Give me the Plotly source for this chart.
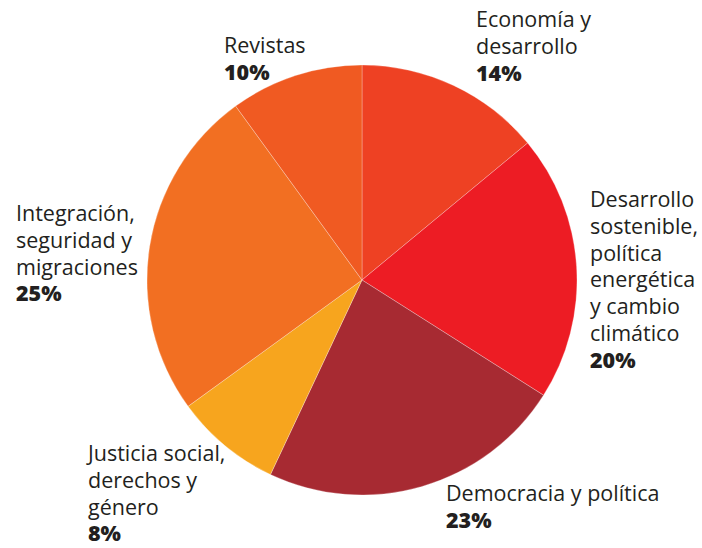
import plotly.graph_objects as go

categories = [
    "Economía y<br>desarrollo",
    "Desarrollo<br>sostenible,<br>política<br>energética<br>y cambio<br>climático",
    "Democracia y política",
    "Justicia social,<br>derechos y<br>género",
    "Integración,<br>seguridad y<br>migraciones",
    "Revistas",
]
values = [14, 20, 23, 8, 25, 10]
colors = ["#EE4123", "#ED1C24", "#A72A32", "#F7A51E", "#F26F22", "#F05A22"]

# label placement: (left x px, first baseline y px)
label_pos = [(475, 28), (589, 208), (445, 502), (85, 462), (15, 222), (223, 54)]

W, H = 702, 548
cx, cy, r = 362, 280, 215
FS = 21.5      # glyph size
BASE = 20.6    # base size, sets line spacing (1.3 x BASE)

fig = go.Figure(go.Pie(
    labels=[c.replace("<br>", " ") for c in categories],
    values=values,
    sort=False,
    direction="clockwise",
    rotation=0,
    marker=dict(colors=colors, line=dict(color="rgba(255,255,255,0.45)", width=0.6)),
    textinfo="none",
    hoverinfo="label+percent",
    showlegend=False,
    domain=dict(x=[(cx - r) / W, (cx + r) / W], y=[(H - cy - r) / H, (H - cy + r) / H]),
))

for cat, v, (px, base) in zip(categories, values, label_pos):
    lines = cat.split("<br>")
    n = len(lines) + 1
    step = 1.3 * BASE
    last_bl = base + (n - 1) * step
    yc = (base + last_bl) / 2 - 0.44 * FS
    text = "<br>".join(f'<span style="font-size:{FS}px">{l}</span>' for l in lines)
    text += f'<br><span style="font-size:{FS}px;font-weight:800">{v}%</span>'
    fig.add_annotation(
        x=px / W, y=1 - yc / H, xref="paper", yref="paper",
        xanchor="left", yanchor="middle", align="left", showarrow=False,
        text=text, borderpad=0,
        font=dict(family="Open Sans", size=BASE, color="#231F20", weight=400),
    )

fig.update_layout(
    width=W, height=H,
    margin=dict(l=0, r=0, t=0, b=0),
    paper_bgcolor="white", plot_bgcolor="white",
)
fig.write_html("out.html", config={"displayModeBar": False},
               post_script="document.body.style.margin='0';")
